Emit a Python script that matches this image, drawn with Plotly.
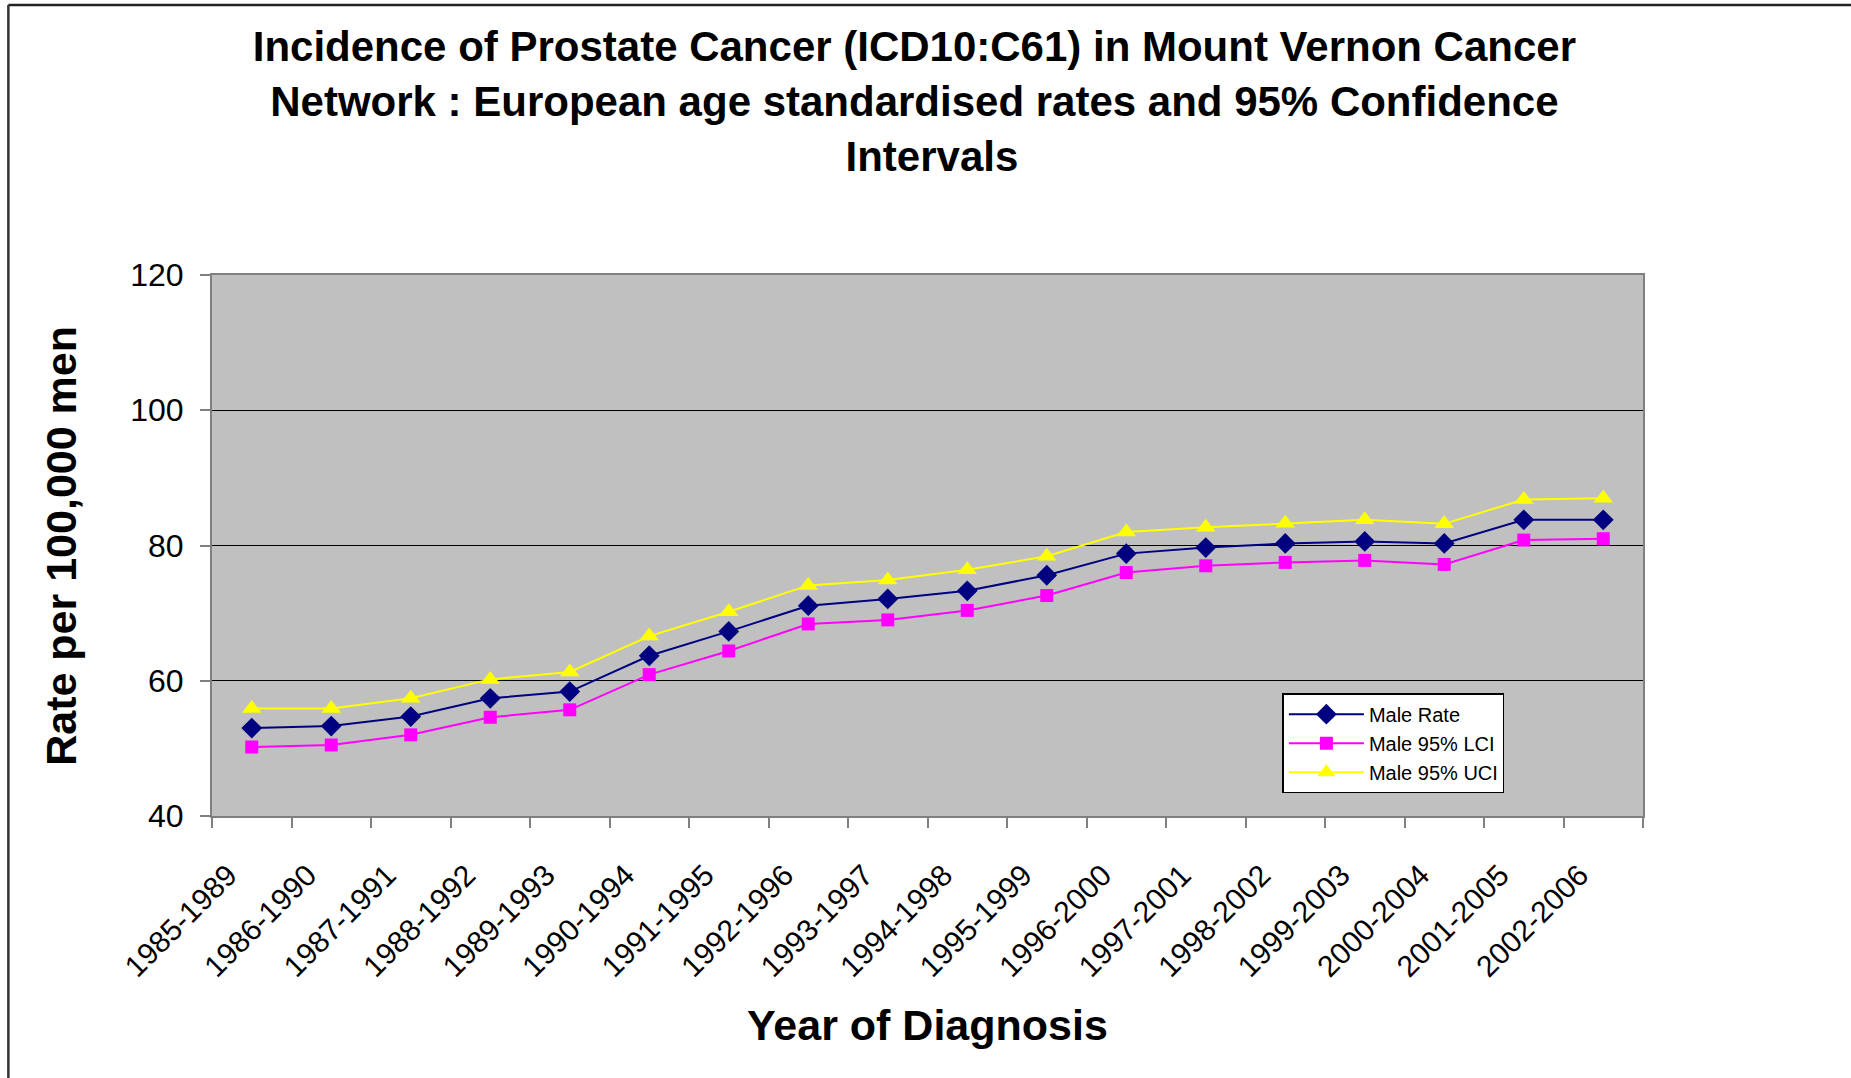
import plotly.graph_objects as go

periods = ["1985-1989", "1986-1990", "1987-1991", "1988-1992", "1989-1993", "1990-1994",
           "1991-1995", "1992-1996", "1993-1997", "1994-1998", "1995-1999", "1996-2000",
           "1997-2001", "1998-2002", "1999-2003", "2000-2004", "2001-2005", "2002-2006"]
male_rate = [53.0, 53.3, 54.7, 57.4, 58.4, 63.7, 67.3, 71.1, 72.1, 73.3, 75.6, 78.8,
             79.7, 80.3, 80.6, 80.3, 83.8, 83.8]
male_lci = [50.2, 50.5, 52.0, 54.6, 55.7, 60.9, 64.4, 68.4, 69.0, 70.4, 72.6, 76.0,
            77.0, 77.5, 77.8, 77.2, 80.8, 81.0]
male_uci = [55.9, 55.9, 57.4, 60.2, 61.3, 66.6, 70.2, 74.1, 74.9, 76.4, 78.4, 82.0,
            82.7, 83.3, 83.8, 83.2, 86.8, 87.0]
y_ticks = [40, 60, 80, 100, 120]

FONT = "Liberation Sans, Arial, sans-serif"
PAD = "\u00a0" * 4

fig = go.Figure()
fig.add_trace(go.Scatter(x=periods, y=male_rate, name="Male Rate", mode="lines+markers",
                         line=dict(color="#000080", width=2),
                         marker=dict(symbol="diamond", size=16, color="#000080")))
fig.add_trace(go.Scatter(x=periods, y=male_lci, name="Male 95% LCI", mode="lines+markers",
                         line=dict(color="#FF00FF", width=2),
                         marker=dict(symbol="square", size=13, color="#FF00FF")))
fig.add_trace(go.Scatter(x=periods, y=male_uci, name="Male 95% UCI", mode="lines+markers",
                         line=dict(color="#FFFF00", width=2),
                         marker=dict(symbol="triangle-up", size=17, color="#FFFF00")))

fig.update_layout(
    width=1851, height=1078,
    margin=dict(l=212, r=208, t=275, b=262),
    paper_bgcolor="white", plot_bgcolor="#C0C0C0",
    font=dict(family=FONT, color="black"),
    title=dict(
        text="Incidence of Prostate Cancer (ICD10:C61) in Mount Vernon Cancer<br>"
             "Network : European age standardised rates and 95% Confidence<br>"
             "\u00a0\u00a0\u00a0Intervals",
        font=dict(family=FONT, size=42, weight="bold", color="black"),
        xref="container", x=0.494, xanchor="center",
        yref="container", y=0.943, yanchor="middle"),
    xaxis=dict(type="category", tickangle=-45, tickson="boundaries",
               tickvals=periods, ticktext=[p + PAD for p in periods],
               ticks="outside", ticklen=10, tickcolor="#808080", tickwidth=2,
               ticklabelstandoff=4,
               showline=True, linecolor="#808080", linewidth=2, mirror=True,
               showgrid=False, tickfont=dict(family=FONT, size=30, color="black"),
               range=[-0.5, len(periods) - 0.5]),
    yaxis=dict(range=[40, 120], tickvals=y_ticks, ticks="outside", ticklen=10,
               tickcolor="#808080", tickwidth=2, ticklabelstandoff=10,
               showline=True, linecolor="#808080", linewidth=2, mirror=True,
               showgrid=True, gridcolor="black", gridwidth=1, zeroline=False,
               tickfont=dict(family=FONT, size=32, color="black")),
    legend=dict(x=0.748, y=0.227, xanchor="left", yanchor="top",
                bgcolor="white", bordercolor="black", borderwidth=1.5,
                font=dict(family=FONT, size=20, color="black"),
                itemwidth=75, tracegroupgap=0),
    annotations=[
        dict(text="Year of Diagnosis", xref="paper", yref="paper", x=0.5, y=-0.386,
             xanchor="center", yanchor="middle", showarrow=False,
             font=dict(family=FONT, size=43, weight="bold", color="black")),
        dict(text="Rate per 100,000 men", xref="paper", yref="paper", x=-0.106, y=0.5,
             xanchor="center", yanchor="middle", showarrow=False, textangle=-90,
             font=dict(family=FONT, size=43, weight="bold", color="black")),
    ],
    shapes=[
        dict(type="line", xref="paper", yref="paper", x0=-0.1423, x1=1.15, y0=1.499, y1=1.499,
             line=dict(color="#222222", width=2.5)),
        dict(type="line", xref="paper", yref="paper", x0=-0.1423, x1=-0.1423, y0=1.499, y1=-0.5,
             line=dict(color="#333333", width=2.5)),
    ],
)

fig.write_html("out.html", config={"displayModeBar": False},
               post_script="document.body.style.margin='0';document.body.style.padding='0';")
